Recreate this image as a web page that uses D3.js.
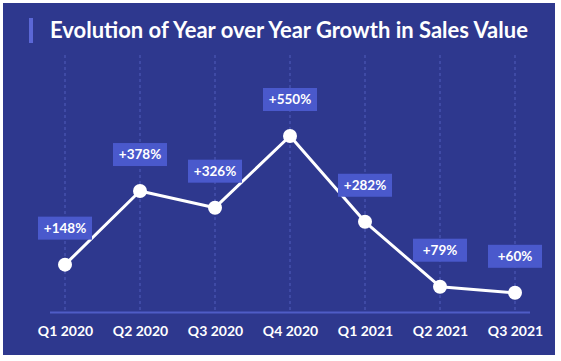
<!DOCTYPE html>
<html><head><meta charset="utf-8">
<script src="https://cdn.jsdelivr.net/npm/d3@7"></script>
<style>html,body{margin:0;padding:0;background:#fff;}svg{display:block;}</style>
</head><body>
<svg id="chart" width="561" height="361"></svg>
<script>
const categories = ["Q1 2020","Q2 2020","Q3 2020","Q4 2020","Q1 2021","Q2 2021","Q3 2021"];
const growthValues = [148, 378, 326, 550, 282, 79, 60];
const valueLabels = ["+148%","+378%","+326%","+550%","+282%","+79%","+60%"];
const titleText = "Evolution of Year over Year Growth in Sales Value";

const svg = d3.select("#chart");
const bg = "#2e388e";
svg.append("rect").attr("x",3).attr("y",3).attr("width",552).attr("height",352).attr("fill",bg);
svg.append("rect").attr("x",29).attr("y",18).attr("width",4).attr("height",25).attr("fill","#5b67d6");
svg.append("text").attr("x",50).attr("y",38).attr("fill","#fff")
  .attr("font-family","Lato, sans-serif").attr("font-weight",700).attr("font-size",22)
  .text(titleText);

const x = d3.scalePoint().domain(categories).range([65,515]);
const y = d3.scaleLinear().domain([0,550]).range([312,136]);

// gridlines
svg.append("g").selectAll("line").data(categories).join("line")
  .attr("x1",d=>x(d)).attr("x2",d=>x(d)).attr("y1",55).attr("y2",312)
  .attr("stroke","#5a66c8").attr("stroke-width",1).attr("stroke-dasharray","3,3").attr("opacity",0.8);

// axis
const axis = d3.axisBottom(x).tickSize(0).tickPadding(14);
const gx = svg.append("g").attr("transform","translate(0,312)").call(axis);
gx.select(".domain").remove();
svg.append("line").attr("x1",50).attr("x2",530).attr("y1",312.5).attr("y2",312.5)
  .attr("stroke","#4f5cc6").attr("stroke-width",2);
gx.selectAll("text").attr("fill","#fff").attr("font-family","Lato, sans-serif")
  .attr("font-weight",700).attr("font-size",14);

// line
const line = d3.line().x((d,i)=>x(categories[i])).y(d=>y(d));
svg.append("path").datum(growthValues).attr("d",line).attr("fill","none")
  .attr("stroke","#fff").attr("stroke-width",3).attr("stroke-linejoin","round");

svg.append("g").selectAll("circle").data(growthValues).join("circle")
  .attr("cx",(d,i)=>x(categories[i])).attr("cy",d=>y(d)).attr("r",7).attr("fill","#fff");

// labels
const lg = svg.append("g").selectAll("g").data(growthValues).join("g")
  .attr("transform",(d,i)=>`translate(${x(categories[i])},${y(d)-25})`);
lg.append("rect").attr("x",-27).attr("y",-23).attr("width",54).attr("height",23).attr("fill","#4a59cc");
lg.append("text").attr("x",0).attr("y",-7).attr("text-anchor","middle").attr("fill","#fff")
  .attr("font-family","Lato, sans-serif").attr("font-weight",700).attr("font-size",13.5)
  .text((d,i)=>valueLabels[i]);
</script>
</body></html>
